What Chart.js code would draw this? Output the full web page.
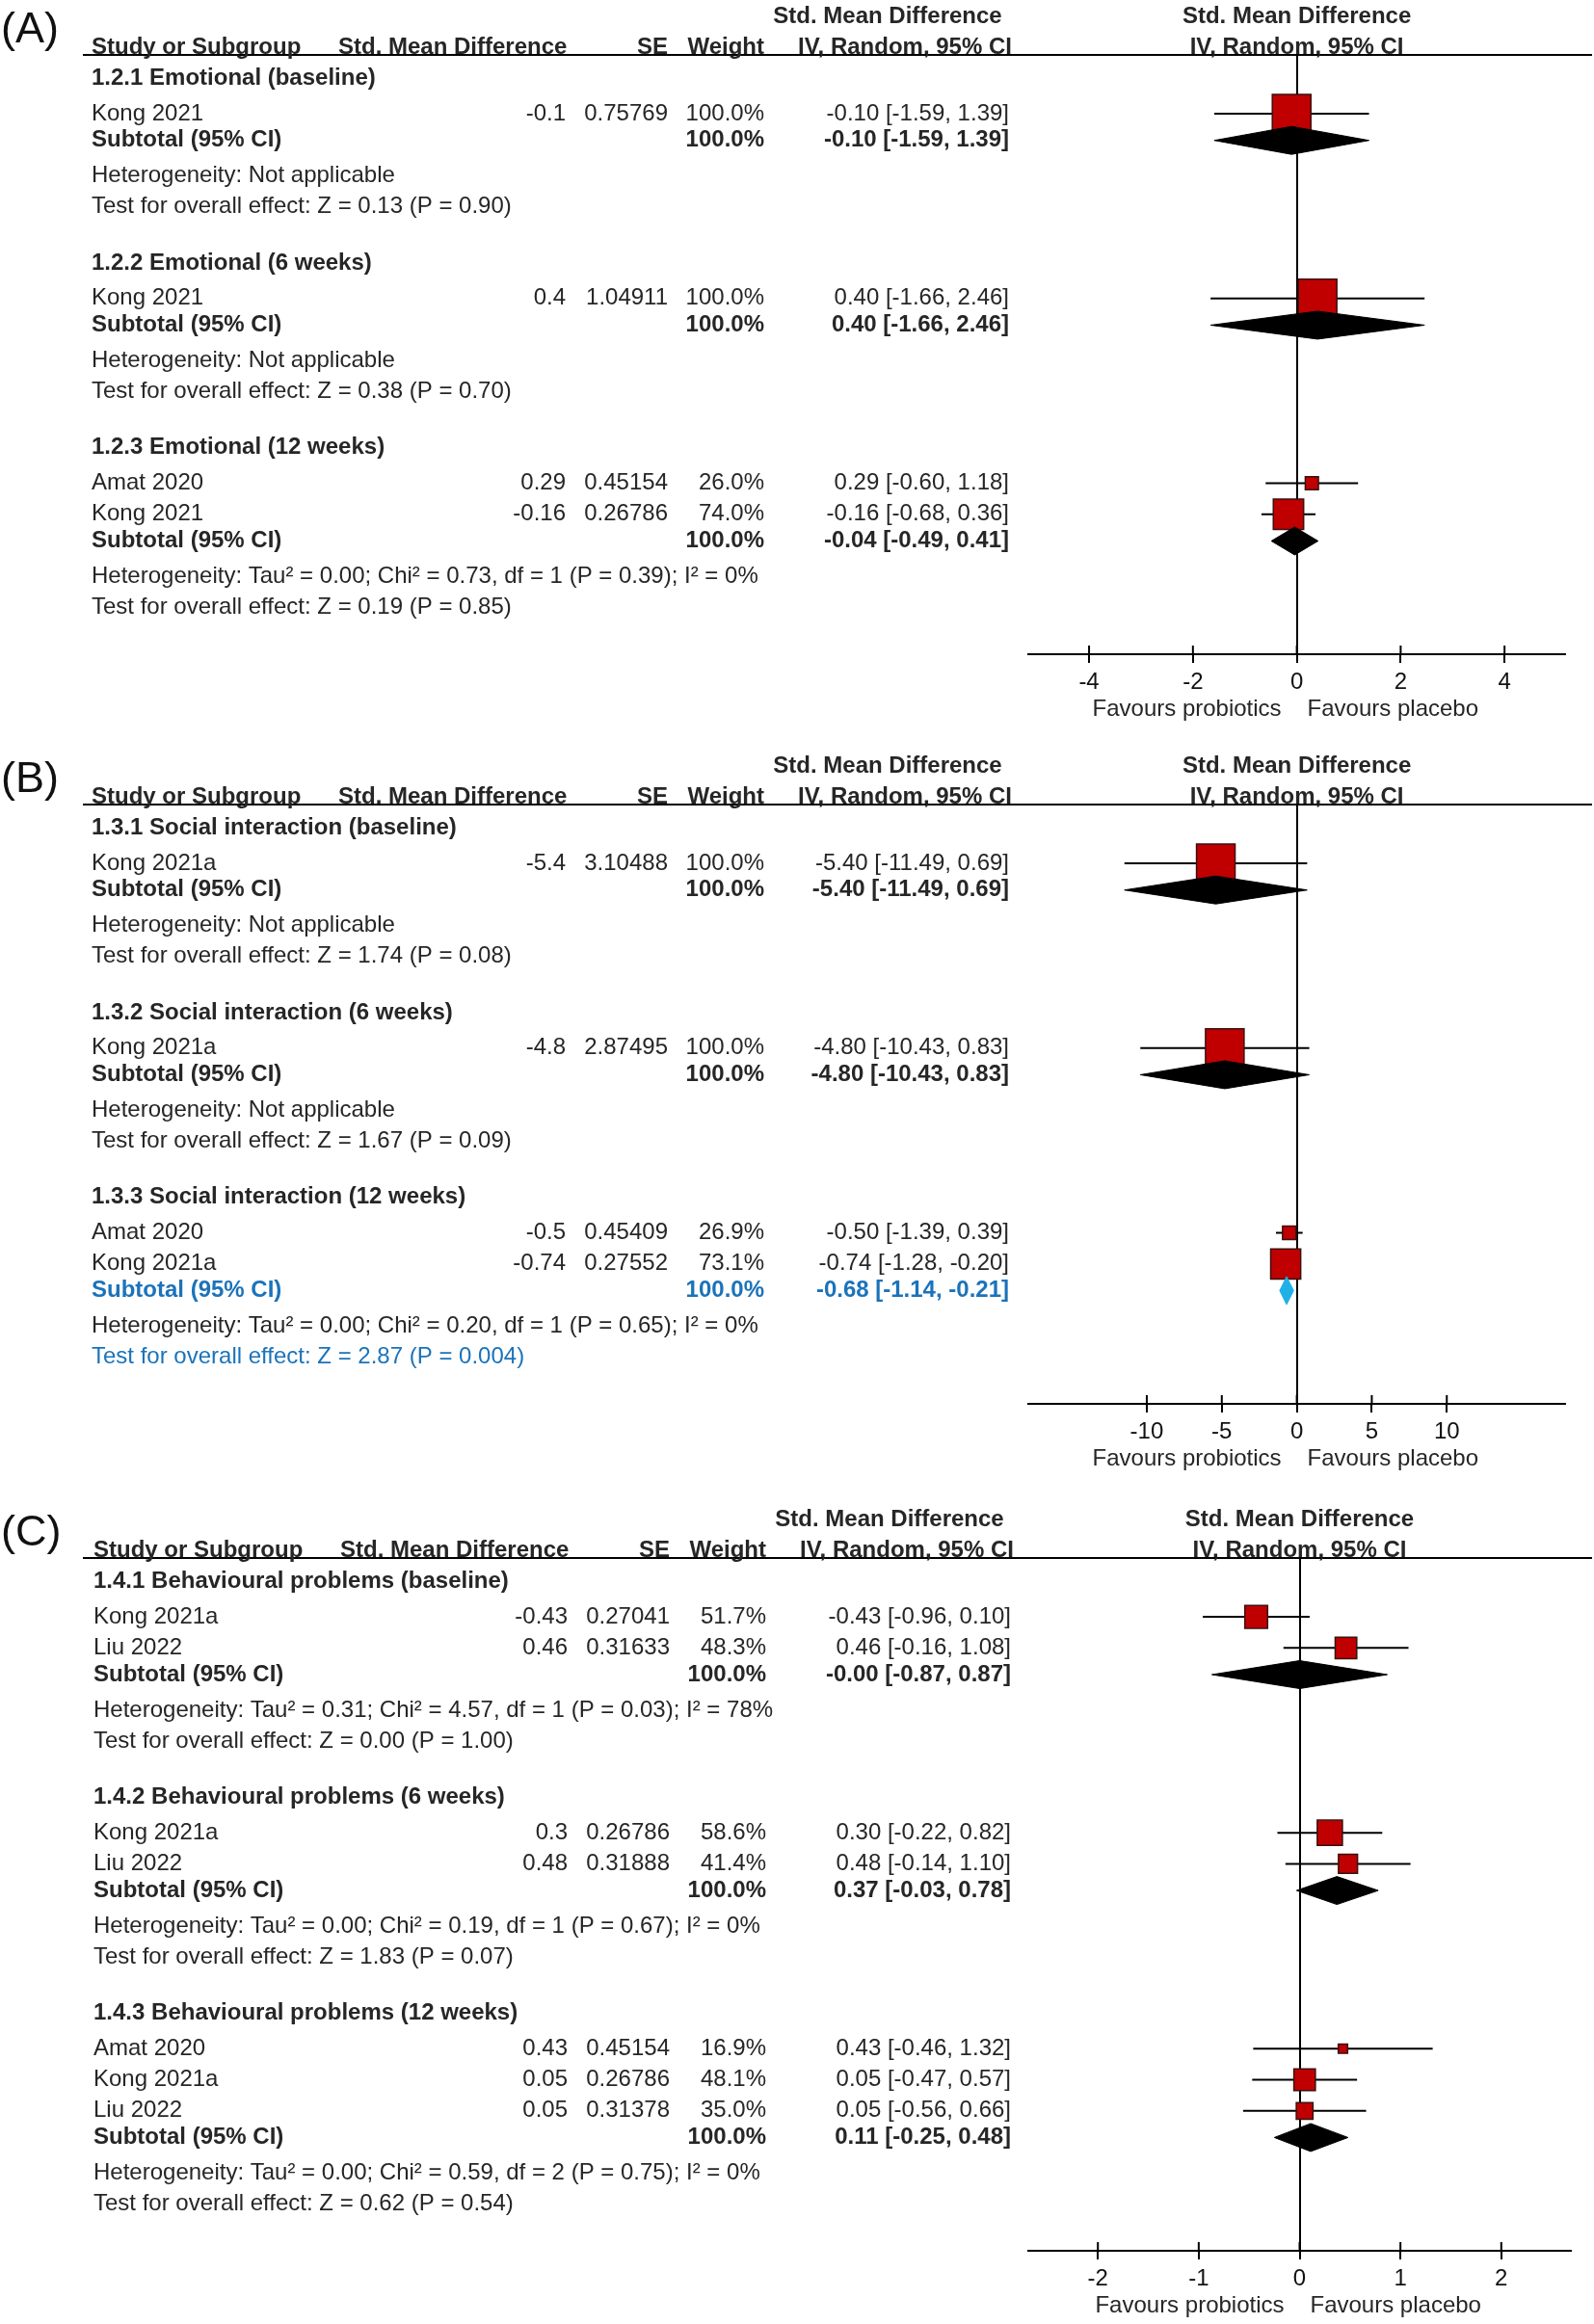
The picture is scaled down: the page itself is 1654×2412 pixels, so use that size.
<!DOCTYPE html>
<html><head><meta charset="utf-8">
<script src="https://cdn.jsdelivr.net/npm/chart.js@4.4.1/dist/chart.umd.min.js"></script>
<style>
html,body{margin:0;padding:0;background:#fff;}
body{width:1654px;height:2412px;position:relative;overflow:hidden;}
.panel{position:absolute;left:0;}
canvas{display:block;}
</style></head><body>
<div class="panel" id="pA" style="top:0px"><canvas id="cA"></canvas></div>
<div class="panel" id="pB" style="top:778px"><canvas id="cB"></canvas></div>
<div class="panel" id="pC" style="top:1560px"><canvas id="cC"></canvas></div>
<script>
// ================= DATA =================
const panelLabels = ['(A)', '(B)', '(C)'];

// ---- Panel A ----
const groupTitlesA = ['1.2.1 Emotional (baseline)', '1.2.2 Emotional (6 weeks)', '1.2.3 Emotional (12 weeks)'];
const studyNamesA = ['Kong 2021', 'Kong 2021', 'Amat 2020', 'Kong 2021'];
const studyGroupA = [0, 1, 2, 2];
const smdA = [-0.1, 0.4, 0.29, -0.16];
const seA = [0.75769, 1.04911, 0.45154, 0.26786];
const weightA = [100.0, 100.0, 26.0, 74.0];
const ciLowA = [-1.59, -1.66, -0.60, -0.68];
const ciHighA = [1.39, 2.46, 1.18, 0.36];
const subEstA = [-0.10, 0.40, -0.04];
const subLowA = [-1.59, -1.66, -0.49];
const subHighA = [1.39, 2.46, 0.41];
const subWeightA = [100.0, 100.0, 100.0];
const hetA = ['Heterogeneity: Not applicable', 'Heterogeneity: Not applicable',
  'Heterogeneity: Tau\u00B2 = 0.00; Chi\u00B2 = 0.73, df = 1 (P = 0.39); I\u00B2 = 0%'];
const testA = ['Test for overall effect: Z = 0.13 (P = 0.90)', 'Test for overall effect: Z = 0.38 (P = 0.70)',
  'Test for overall effect: Z = 0.19 (P = 0.85)'];
const ticksA = [-4, -2, 0, 2, 4];
const rangeA = 5.17;
const highlightA = -1;

// ---- Panel B ----
const groupTitlesB = ['1.3.1 Social interaction (baseline)', '1.3.2 Social interaction (6 weeks)', '1.3.3 Social interaction (12 weeks)'];
const studyNamesB = ['Kong 2021a', 'Kong 2021a', 'Amat 2020', 'Kong 2021a'];
const studyGroupB = [0, 1, 2, 2];
const smdB = [-5.4, -4.8, -0.5, -0.74];
const seB = [3.10488, 2.87495, 0.45409, 0.27552];
const weightB = [100.0, 100.0, 26.9, 73.1];
const ciLowB = [-11.49, -10.43, -1.39, -1.28];
const ciHighB = [0.69, 0.83, 0.39, -0.20];
const subEstB = [-5.40, -4.80, -0.68];
const subLowB = [-11.49, -10.43, -1.14];
const subHighB = [0.69, 0.83, -0.21];
const subWeightB = [100.0, 100.0, 100.0];
const hetB = ['Heterogeneity: Not applicable', 'Heterogeneity: Not applicable',
  'Heterogeneity: Tau\u00B2 = 0.00; Chi\u00B2 = 0.20, df = 1 (P = 0.65); I\u00B2 = 0%'];
const testB = ['Test for overall effect: Z = 1.74 (P = 0.08)', 'Test for overall effect: Z = 1.67 (P = 0.09)',
  'Test for overall effect: Z = 2.87 (P = 0.004)'];
const ticksB = [-10, -5, 0, 5, 10];
const rangeB = 17.9;
const highlightB = 2;

// ---- Panel C ----
const groupTitlesC = ['1.4.1 Behavioural problems (baseline)', '1.4.2 Behavioural problems (6 weeks)', '1.4.3 Behavioural problems (12 weeks)'];
const studyNamesC = ['Kong 2021a', 'Liu 2022', 'Kong 2021a', 'Liu 2022', 'Amat 2020', 'Kong 2021a', 'Liu 2022'];
const studyGroupC = [0, 0, 1, 1, 2, 2, 2];
const smdC = [-0.43, 0.46, 0.3, 0.48, 0.43, 0.05, 0.05];
const seC = [0.27041, 0.31633, 0.26786, 0.31888, 0.45154, 0.26786, 0.31378];
const weightC = [51.7, 48.3, 58.6, 41.4, 16.9, 48.1, 35.0];
const ciLowC = [-0.96, -0.16, -0.22, -0.14, -0.46, -0.47, -0.56];
const ciHighC = [0.10, 1.08, 0.82, 1.10, 1.32, 0.57, 0.66];
const subEstC = [-0.00, 0.37, 0.11];
const subLowC = [-0.87, -0.03, -0.25];
const subHighC = [0.87, 0.78, 0.48];
const subWeightC = [100.0, 100.0, 100.0];
const hetC = ['Heterogeneity: Tau\u00B2 = 0.31; Chi\u00B2 = 4.57, df = 1 (P = 0.03); I\u00B2 = 78%',
  'Heterogeneity: Tau\u00B2 = 0.00; Chi\u00B2 = 0.19, df = 1 (P = 0.67); I\u00B2 = 0%',
  'Heterogeneity: Tau\u00B2 = 0.00; Chi\u00B2 = 0.59, df = 2 (P = 0.75); I\u00B2 = 0%'];
const testC = ['Test for overall effect: Z = 0.00 (P = 1.00)', 'Test for overall effect: Z = 1.83 (P = 0.07)',
  'Test for overall effect: Z = 0.62 (P = 0.54)'];
const ticksC = [-2, -1, 0, 1, 2];
const rangeC = 2.69;
const highlightC = -1;

const favourLeft = 'Favours probiotics';
const favourRight = 'Favours placebo';

// ================= STYLE / LAYOUT =================
const FONT = '"Liberation Sans", Arial, Helvetica, sans-serif';
const TEXT = '#262626';
const BLUE_TEXT = '#1b73ba';
const BLUE_DIAMOND = '#1fb0e6';
const SQUARE_FILL = '#c00000';
const SQUARE_EDGE = '#3a1010';
const UNIT = 32.28;      // px per table line unit
const TOP = 57;          // header rule position
const AXIS_H = 76;       // space below the axis
const PLOT_LEFT = 1067, PLOT_RIGHT = 1630, W = 1654;
const STEP = {first: 0.75, hdrStudy: 1.143, study: 1.0, studySub: 0.857, subHet: 1.143, hetTest: 1.0, testHdr: 1.80, testAxis: 1.50};
const DIAMOND_HALF = 14.5 / UNIT;
const BOX_BASE = 40;

const panels = [
  {label: panelLabels[0], groups: groupTitlesA, names: studyNamesA, grp: studyGroupA, smd: smdA, se: seA, w: weightA,
   lo: ciLowA, hi: ciHighA, sEst: subEstA, sLo: subLowA, sHi: subHighA, sW: subWeightA, het: hetA, test: testA,
   ticks: ticksA, range: rangeA, hl: highlightA, dx: 0, canvas: 'cA'},
  {label: panelLabels[1], groups: groupTitlesB, names: studyNamesB, grp: studyGroupB, smd: smdB, se: seB, w: weightB,
   lo: ciLowB, hi: ciHighB, sEst: subEstB, sLo: subLowB, sHi: subHighB, sW: subWeightB, het: hetB, test: testB,
   ticks: ticksB, range: rangeB, hl: highlightB, dx: 0, canvas: 'cB'},
  {label: panelLabels[2], groups: groupTitlesC, names: studyNamesC, grp: studyGroupC, smd: smdC, se: seC, w: weightC,
   lo: ciLowC, hi: ciHighC, sEst: subEstC, sLo: subLowC, sHi: subHighC, sW: subWeightC, het: hetC, test: testC,
   ticks: ticksC, range: rangeC, hl: highlightC, dx: 2, canvas: 'cC'}
];

function f2(v) { return (v < 0 || Object.is(v, -0)) ? '-' + Math.abs(v).toFixed(2) : v.toFixed(2); }
function ciText(e, lo, hi) { return f2(e) + ' [' + f2(lo) + ', ' + f2(hi) + ']'; }

function buildRows(p) {
  const rows = []; let y = 0;
  p.groups.forEach((g, gi) => {
    y += gi === 0 ? STEP.first : STEP.testHdr;
    rows.push({type: 'group', gi, y});
    const idx = p.grp.map((gg, i) => gg === gi ? i : -1).filter(i => i >= 0);
    idx.forEach((si, k) => { y += k === 0 ? STEP.hdrStudy : STEP.study; rows.push({type: 'study', si, y}); });
    y += STEP.studySub; rows.push({type: 'sub', gi, y});
    y += STEP.subHet; rows.push({type: 'het', gi, y});
    y += STEP.hetTest; rows.push({type: 'test', gi, y});
  });
  y += STEP.testAxis;
  return {rows, total: y};
}

const tablePlugin = {
  id: 'forestTable',
  afterDraw(chart, args, opts) {
    const p = opts.panel, rows = opts.rows;
    const ctx = chart.ctx, xs = chart.scales.x, ys = chart.scales.y;
    const dx = p.dx, top = chart.chartArea.top, bottom = chart.chartArea.bottom;
    const x0 = xs.getPixelForValue(0);
    ctx.save();
    // panel label
    ctx.fillStyle = '#111';
    ctx.font = '45px ' + FONT;
    ctx.textAlign = 'left'; ctx.textBaseline = 'middle';
    ctx.fillText(p.label, 1, 32);
    // header rule
    ctx.strokeStyle = '#000'; ctx.lineWidth = 2;
    ctx.beginPath(); ctx.moveTo(86, top); ctx.lineTo(1652, top); ctx.stroke();
    // headers
    ctx.fillStyle = TEXT;
    ctx.font = 'bold 24px ' + FONT;
    ctx.textBaseline = 'alphabetic';
    const b2 = top - 1, b1 = top - 33;
    ctx.textAlign = 'left';
    ctx.fillText('Study or Subgroup', 95 + dx, b2);
    ctx.fillText('Std. Mean Difference', 351 + dx, b2);
    ctx.textAlign = 'right';
    ctx.fillText('SE', 693 + dx, b2);
    ctx.fillText('Weight', 793 + dx, b2);
    ctx.textAlign = 'center';
    ctx.fillText('IV, Random, 95% CI', 939 + dx, b2);
    ctx.fillText('Std. Mean Difference', 921 + dx, b1);
    ctx.fillText('IV, Random, 95% CI', x0, b2);
    ctx.fillText('Std. Mean Difference', x0, b1);
    // rows
    ctx.textBaseline = 'middle';
    rows.forEach(r => {
      const y = ys.getPixelForValue(r.y);
      if (r.type === 'group') {
        ctx.fillStyle = TEXT; ctx.font = 'bold 24px ' + FONT; ctx.textAlign = 'left';
        ctx.fillText(p.groups[r.gi], 95 + dx, y);
      } else if (r.type === 'study') {
        const i = r.si;
        ctx.fillStyle = TEXT; ctx.font = '24px ' + FONT;
        ctx.textAlign = 'left'; ctx.fillText(p.names[i], 95 + dx, y);
        ctx.textAlign = 'right';
        ctx.fillText(String(p.smd[i]), 587 + dx, y);
        ctx.fillText(String(p.se[i]), 693 + dx, y);
        ctx.fillText(p.w[i].toFixed(1) + '%', 793 + dx, y);
        ctx.fillText(ciText(p.smd[i], p.lo[i], p.hi[i]), 1047 + dx, y);
      } else if (r.type === 'sub') {
        ctx.fillStyle = r.gi === p.hl ? BLUE_TEXT : TEXT; ctx.font = 'bold 24px ' + FONT;
        ctx.textAlign = 'left'; ctx.fillText('Subtotal (95% CI)', 95 + dx, y);
        ctx.textAlign = 'right';
        ctx.fillText(p.sW[r.gi].toFixed(1) + '%', 793 + dx, y);
        ctx.fillText(ciText(p.sEst[r.gi], p.sLo[r.gi], p.sHi[r.gi]), 1047 + dx, y);
      } else if (r.type === 'het') {
        ctx.fillStyle = TEXT; ctx.font = '24px ' + FONT; ctx.textAlign = 'left';
        ctx.fillText(p.het[r.gi], 95 + dx, y);
      } else if (r.type === 'test') {
        ctx.fillStyle = r.gi === p.hl ? BLUE_TEXT : TEXT; ctx.font = '24px ' + FONT; ctx.textAlign = 'left';
        ctx.fillText(p.test[r.gi], 95 + dx, y);
      }
    });
    // upper halves of axis ticks
    ctx.strokeStyle = '#000'; ctx.lineWidth = 2;
    xs.ticks.forEach(t => {
      const x = xs.getPixelForValue(t.value);
      ctx.beginPath(); ctx.moveTo(x, bottom - 9); ctx.lineTo(x, bottom); ctx.stroke();
    });
    // favours labels
    ctx.fillStyle = TEXT; ctx.font = '24px ' + FONT; ctx.textBaseline = 'middle';
    ctx.textAlign = 'right'; ctx.fillText(favourLeft, x0 - 16, bottom + 57);
    ctx.textAlign = 'left'; ctx.fillText(favourRight, x0 + 11, bottom + 57);
    ctx.restore();
  }
};

panels.forEach(p => {
  const {rows, total} = buildRows(p);
  const H = Math.round(TOP + total * UNIT + AXIS_H);
  const cv = document.getElementById(p.canvas);
  cv.width = W; cv.height = H; cv.style.width = W + 'px'; cv.style.height = H + 'px';

  const studyY = {}; const subY = {};
  rows.forEach(r => { if (r.type === 'study') studyY[r.si] = r.y; if (r.type === 'sub') subY[r.gi] = r.y; });

  const datasets = [];
  // diamonds (drawn on top)
  p.sEst.forEach((e, gi) => {
    const y = subY[gi];
    const col = gi === p.hl ? BLUE_DIAMOND : '#000';
    datasets.push({
      type: 'line', order: 0,
      data: [{x: p.sLo[gi], y: y}, {x: e, y: y - DIAMOND_HALF}, {x: p.sHi[gi], y: y}, {x: e, y: y + DIAMOND_HALF}, {x: p.sLo[gi], y: y}],
      borderColor: col, backgroundColor: col, borderWidth: 1, fill: 'shape', pointRadius: 0, tension: 0
    });
  });
  // study squares
  datasets.push({
    type: 'line', order: 1, showLine: false,
    data: p.smd.map((v, i) => ({x: v, y: studyY[i]})),
    pointStyle: 'rect',
    pointRadius: p.w.map(w => BOX_BASE * Math.pow(w / 100, 0.8) / Math.SQRT2),
    pointBackgroundColor: SQUARE_FILL, pointBorderColor: SQUARE_EDGE, pointBorderWidth: 1.5
  });
  // confidence interval whiskers
  p.smd.forEach((v, i) => {
    datasets.push({
      type: 'line', order: 2,
      data: [{x: p.lo[i], y: studyY[i]}, {x: p.hi[i], y: studyY[i]}],
      borderColor: '#000', borderWidth: 2, pointRadius: 0, fill: false, tension: 0
    });
  });

  new Chart(cv, {
    type: 'line',
    data: {datasets},
    options: {
      responsive: false, animation: false, events: [],
      layout: {padding: {left: PLOT_LEFT, right: W - PLOT_RIGHT, top: TOP, bottom: 0}},
      plugins: {legend: {display: false}, tooltip: {enabled: false}, forestTable: {panel: p, rows}},
      scales: {
        x: {
          type: 'linear', position: 'bottom', min: -p.range, max: p.range,
          afterBuildTicks: s => { s.ticks = p.ticks.map(v => ({value: v})); },
          afterFit: s => { s.height = AXIS_H; },
          ticks: {font: {family: FONT, size: 24}, color: '#111', padding: 6, maxRotation: 0, autoSkip: false,
                  callback: v => String(v)},
          grid: {drawOnChartArea: true, color: c => (c.tick && c.tick.value === 0) ? '#000' : 'rgba(0,0,0,0)',
                 lineWidth: 2, tickColor: '#000', tickWidth: 2, tickLength: 9},
          border: {display: true, color: '#000', width: 2}
        },
        y: {type: 'linear', display: false, reverse: true, min: 0, max: total}
      }
    },
    plugins: [tablePlugin]
  });
});
</script>
</body></html>
